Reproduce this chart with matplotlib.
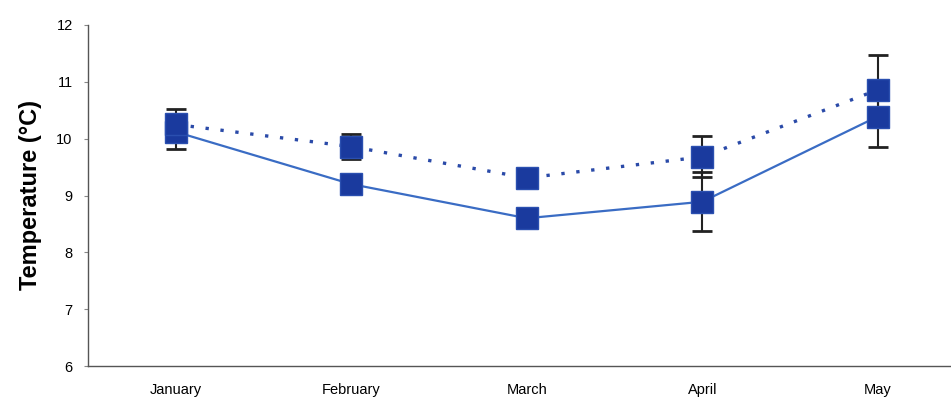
import matplotlib.pyplot as plt
import numpy as np

plt.rcParams['font.family'] = ['Liberation Sans', 'DejaVu Sans']

# monthly means and error bars for the two series
months = ['January', 'February', 'March', 'April', 'May']
temp_dotted = [10.25, 9.86, 9.31, 9.68, 10.86]
err_dotted = [0.28, 0.22, 0.10, 0.36, 0.62]
temp_solid = [10.12, 9.20, 8.60, 8.89, 10.39]
err_solid = [0.31, 0.15, 0.15, 0.52, 0.53]

x = np.arange(len(months))

fig = plt.figure(figsize=(9.51, 3.99), dpi=100)
ax = fig.add_axes([88 / 951, 1 - 366 / 399, (951 - 88) / 951, 341 / 399])

marker_col = '#1a3a9e'

# error bars first so the squares sit on top
ax.errorbar(x, temp_solid, yerr=err_solid, fmt='none', ecolor='#222222',
            elinewidth=1.5, capsize=7, capthick=2, zorder=2)
ax.errorbar(x, temp_dotted, yerr=err_dotted, fmt='none', ecolor='#222222',
            elinewidth=1.5, capsize=7, capthick=2, zorder=2)

ax.plot(x, temp_solid, color='#3a6cc4', linewidth=1.6, zorder=3)
ax.plot(x, temp_dotted, color='#2a4aa8', linewidth=2.4,
        linestyle=(0, (1, 3.5)), zorder=3)
ax.plot(x, temp_solid, linestyle='none', marker='s', markersize=16,
        markerfacecolor=marker_col, markeredgecolor='#2a4fb0', zorder=4)
ax.plot(x, temp_dotted, linestyle='none', marker='s', markersize=16,
        markerfacecolor=marker_col, markeredgecolor='#2a4fb0', zorder=4)

ax.set_xlim(-0.5, -0.5 + (951 - 88) / 175.5)
ax.set_ylim(6, 12)
ax.set_yticks(range(6, 13))
ax.set_xticks(x)
ax.set_xticklabels(months, fontsize=10.5)
ax.tick_params(axis='x', length=0, pad=12)
ax.tick_params(axis='y', length=3, width=0.8, labelsize=10.5, pad=8,
               color='#888888')
ax.set_ylabel('Temperature (°C)', fontsize=17, fontweight='bold', labelpad=10)

for side in ('top', 'right'):
    ax.spines[side].set_visible(False)
for side in ('left', 'bottom'):
    ax.spines[side].set_color('#555555')
    ax.spines[side].set_linewidth(1.0)

fig.savefig('out.png', dpi=100)
